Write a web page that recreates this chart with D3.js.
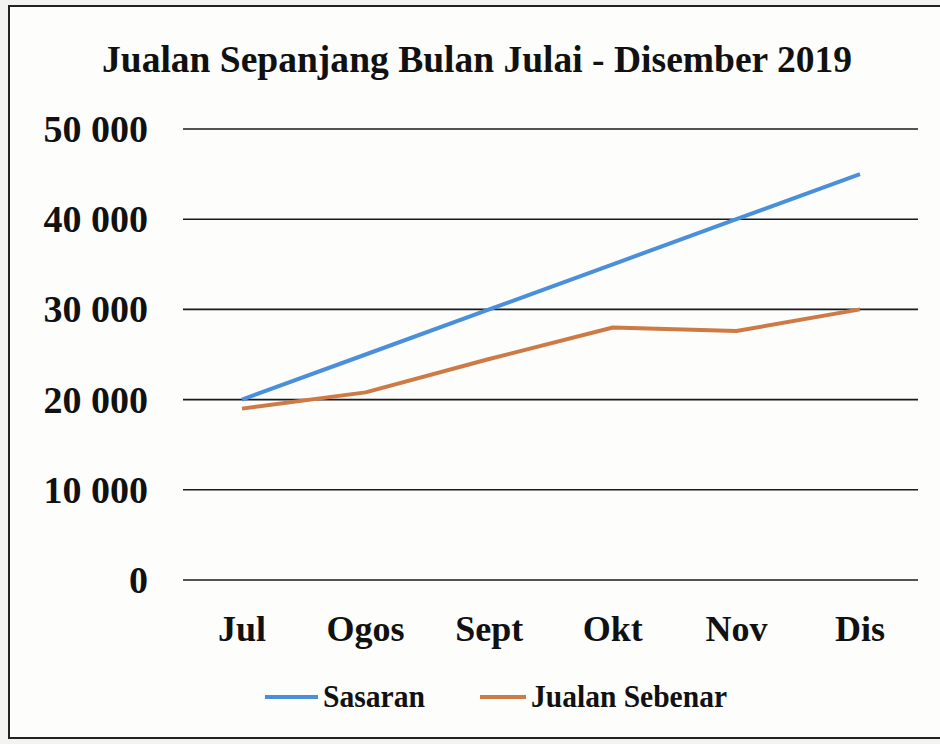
<!DOCTYPE html>
<meta charset="utf-8">
<style>
    body { margin: 0; background: #f3f3f1; }
    svg { display: block; }
    text { font-family: "Liberation Serif", "Times New Roman", serif; font-weight: bold; fill: #111; }
    .grid line { stroke: #1a1a1a; stroke-width: 1.6px; }
</style>
<svg width="940" height="744"></svg>
<script src="https://d3js.org/d3.v7.min.js"></script>
<script>

    var months = ["Jul", "Ogos", "Sept", "Okt", "Nov", "Dis"];
    var sasaran = [20000, 25000, 30000, 35000, 40000, 45000];
    var jualanSebenar = [19000, 20800, 24500, 28000, 27600, 30000];
    var yTicks = [0, 10000, 20000, 30000, 40000, 50000];
    var seriesNames = ["Sasaran", "Jualan Sebenar"];
    var colors = ["#4a8fdb", "#cd7a45"];

    var svg = d3.select("svg"),
        width = +svg.attr("width"),
        height = +svg.attr("height");

    // paper frame
    svg.append("rect")
        .attr("x", 9).attr("y", 6)
        .attr("width", 960).attr("height", 732)
        .attr("fill", "#fdfdfc")
        .attr("stroke", "#222").attr("stroke-width", 2);

    var x = d3.scalePoint().domain(months).range([242, 860]);
    var y = d3.scaleLinear().domain([0, 50000]).range([580, 129]);

    var fmt = function (d) { return d3.format(",")(d).replace(/,/g, " "); };

    // title
    svg.append("text")
        .attr("x", 477).attr("y", 72)
        .attr("text-anchor", "middle")
        .attr("font-size", 37)
        .attr("textLength", 750)
        .attr("lengthAdjust", "spacingAndGlyphs")
        .text("Jualan Sepanjang Bulan Julai - Disember 2019");

    // gridlines
    svg.append("g").attr("class", "grid")
        .selectAll("line")
        .data(yTicks)
        .enter().append("line")
        .attr("x1", 183).attr("x2", 918)
        .attr("y1", function (d) { return y(d); })
        .attr("y2", function (d) { return y(d); });

    // y labels
    svg.append("g")
        .selectAll("text")
        .data(yTicks)
        .enter().append("text")
        .attr("x", 148)
        .attr("y", function (d) { return y(d) + 13; })
        .attr("text-anchor", "end")
        .attr("font-size", 38)
        .text(fmt);

    // x labels
    svg.append("g")
        .selectAll("text")
        .data(months)
        .enter().append("text")
        .attr("x", function (d) { return x(d); })
        .attr("y", 641)
        .attr("text-anchor", "middle")
        .attr("font-size", 36)
        .text(function (d) { return d; });

    var line = d3.line()
        .x(function (d, i) { return x(months[i]); })
        .y(function (d) { return y(d); });

    [sasaran, jualanSebenar].forEach(function (s, i) {
        svg.append("path")
            .datum(s)
            .attr("fill", "none")
            .attr("stroke", colors[i])
            .attr("stroke-width", 4)
            .attr("stroke-linejoin", "round")
            .attr("d", line);
    });

    // legend
    var legendX = [265, 480];
    var leg = svg.append("g").selectAll("g")
        .data(seriesNames)
        .enter().append("g")
        .attr("transform", function (d, i) { return "translate(" + legendX[i] + ",697)"; });

    leg.append("line")
        .attr("x1", 0).attr("x2", function (d, i) { return i === 0 ? 53 : 46; })
        .attr("stroke", function (d, i) { return colors[i]; })
        .attr("stroke-width", 4);

    leg.append("text")
        .attr("x", function (d, i) { return i === 0 ? 58 : 51; })
        .attr("y", 10)
        .attr("font-size", 31)
        .attr("textLength", function (d, i) { return i === 0 ? 102 : 196; })
        .attr("lengthAdjust", "spacingAndGlyphs")
        .text(function (d) { return d; });

</script>
